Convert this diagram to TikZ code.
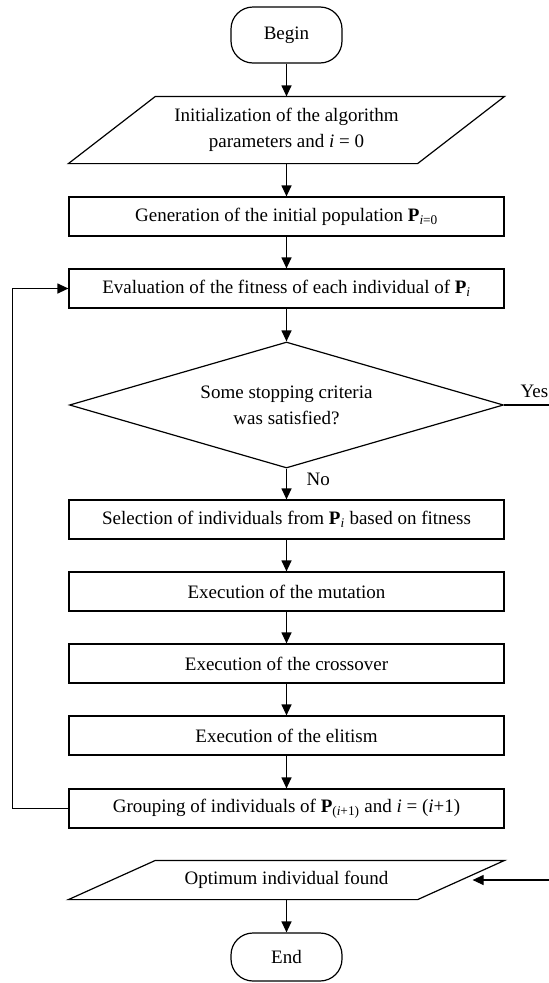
\documentclass[tikz,border=0pt]{standalone}
\usepackage{fontspec}
\setmainfont{Liberation Serif}
\usetikzlibrary{arrows.meta,shapes.geometric}
\tikzset{
  box/.style={draw,minimum width=435pt,minimum height=39pt,inner sep=0pt},
  term/.style={draw,rounded corners=22pt,minimum width=111pt,minimum height=56pt,inner sep=0pt},
  inout/.style={minimum width=435pt,inner sep=0pt,align=center},
  decide/.style={draw,diamond,aspect=3.44,minimum width=434pt,minimum height=126pt,inner sep=0pt,align=center},
}
\begin{document}
\begin{tikzpicture}[x=1pt,y=-1pt,line width=1.2pt,>={Triangle[length=11pt,width=10pt]},
    every node/.style={font=\fontsize{19}{26}\selectfont}]
  \useasboundingbox (0,0) rectangle (549,983);
  \node[term] (begin) at (286.5,35) {Begin};
  \node[inout,minimum height=66pt] (init) at (286.5,130)
    {Initialization of the algorithm\\parameters and \textit{i} = 0};
  \node[box] (gen) at (286.5,216.5) {Generation of the initial population \textbf{P}\textsubscript{\textit{i}=0}};
  \node[box] (eval) at (286.5,288.5) {Evaluation of the fitness of each individual of \textbf{P}\textsubscript{\textit{i}}};
  \node[decide] (stop) at (286.5,405) {Some stopping criteria\\was satisfied?};
  \node[box] (sel) at (286.5,519.5) {Selection of individuals from \textbf{P}\textsubscript{\textit{i}} based on fitness};
  \node[box] (mut) at (286.5,591.5) {Execution of the mutation};
  \node[box] (cross) at (286.5,663.5) {Execution of the crossover};
  \node[box] (elit) at (286.5,735.5) {Execution of the elitism};
  \node[box] (group) at (286.5,808.5) {Grouping of individuals of \textbf{P}\textsubscript{(\textit{i}+1)} and \textit{i} = (\textit{i}+1)};
  \node[inout,minimum height=38pt] (opt) at (286.5,880) {Optimum individual found};
  \node[term,minimum height=48pt] (end) at (286.5,957) {End};
  \node[anchor=base west,inner sep=0pt] (yes) at (520,397) {Yes};
  \node[anchor=base west,inner sep=0pt] (no) at (306,485) {No};
  % slanted outlines of the two data boxes
  \foreach \n in {init,opt}
    \draw (\n.south west) -- ([xshift=87pt]\n.north west) -- (\n.north east)
      -- ([xshift=-87pt]\n.south east) -- cycle;
  \coordinate (yesend) at (549,405);
  \coordinate (optin) at (549,880);
  \draw[->] (begin) -- (init);
  \draw[->] (init) -- (gen);
  \draw[->] (gen) -- (eval);
  \draw[->] (eval) -- (stop);
  \draw[->] (stop) -- (sel);
  \draw[->] (sel) -- (mut);
  \draw[->] (mut) -- (cross);
  \draw[->] (cross) -- (elit);
  \draw[->] (elit) -- (group);
  \draw[->] (group.west) -- ++(-56,0) |- (eval.west);
  \draw (stop.east) -- (yesend);
  \draw[->] (optin) -- ([xshift=-32pt]opt.east);
  \draw[->] (opt) -- (end);
\end{tikzpicture}
\end{document}
